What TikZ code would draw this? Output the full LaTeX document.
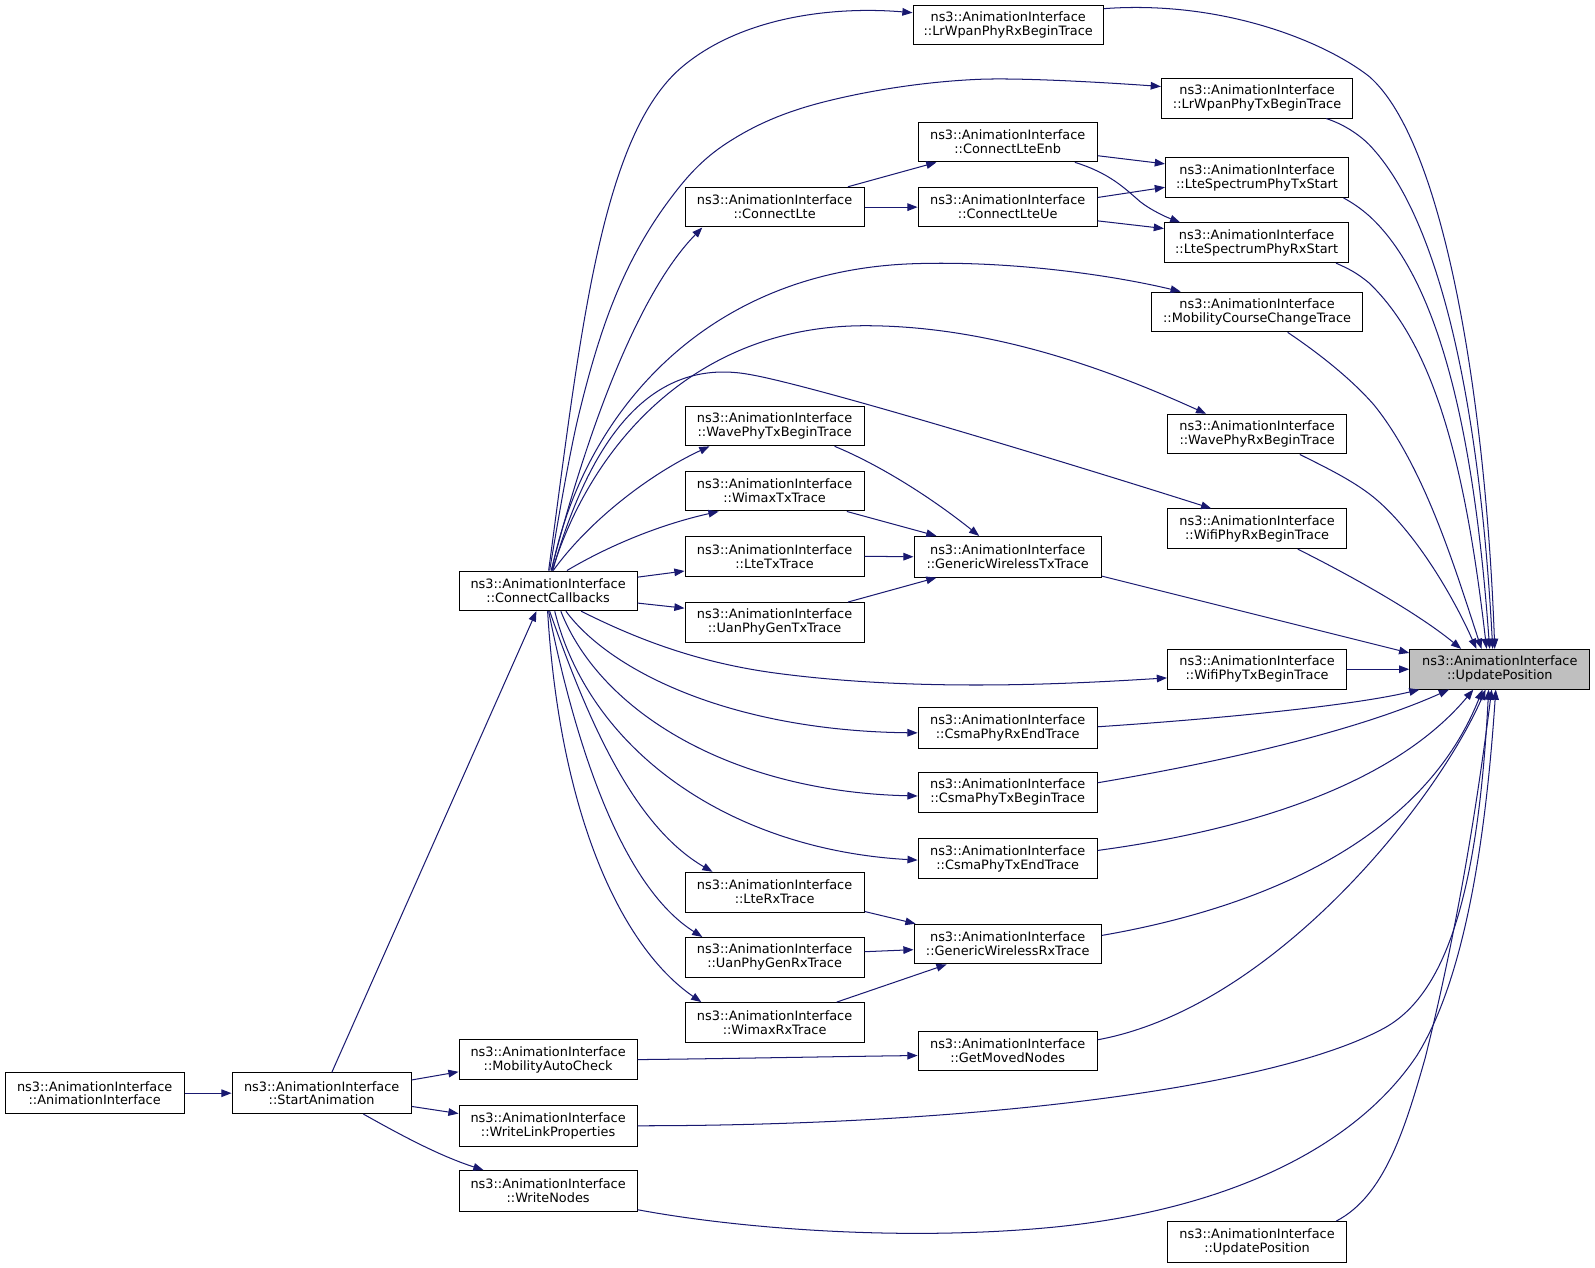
\documentclass[tikz,border=0pt]{standalone}
\usepackage{fontspec}
\setmainfont{DejaVu Sans}
\usetikzlibrary{arrows.meta,calc}
\definecolor{edgec}{HTML}{191970}
\newcommand\dnode[7][]{\node[fbox,#1, minimum width={(#5-#3)*0.75pt}, minimum height={(#6-#4)*0.75pt}] (#2) at ({(#3+#5)/2},{(#4+#6)/2}) {ns3::AnimationInterface\\::#7};}
\begin{document}
\begin{tikzpicture}[x=0.75pt,y=-0.75pt,
  fbox/.style={draw=black, line width=0.75pt, rectangle, align=center, inner sep=0pt, font=\fontsize{9.5}{10.3}\selectfont},
  e/.style={draw=edgec, line width=0.75pt, -{Triangle[length=7.5pt,width=5.6pt]}}]
\useasboundingbox (0,0) rectangle (1567,1245);
% nodes
\dnode[fill=black!25]{up}{1385}{638}{1562}{677}{UpdatePosition}
\dnode{lrrx}{897}{5}{1084}{44}{LrWpanPhyRxBeginTrace}
\dnode{lrtx}{1141}{77}{1329}{116}{LrWpanPhyTxBeginTrace}
\dnode{enb}{902}{120}{1078}{159}{ConnectLteEnb}
\dnode{lstx}{1145}{155}{1325}{194}{LteSpectrumPhyTxStart}
\dnode{cl}{673}{184}{849}{223}{ConnectLte}
\dnode{ue}{902}{184}{1078}{223}{ConnectLteUe}
\dnode{lsrx}{1144}{219}{1325}{258}{LteSpectrumPhyRxStart}
\dnode{mcc}{1131}{287}{1339}{326}{MobilityCourseChangeTrace}
\dnode{wprx}{1147}{407}{1323}{446}{WavePhyRxBeginTrace}
\dnode{wptx}{673}{399}{849}{438}{WavePhyTxBeginTrace}
\dnode{wmtx}{673}{463}{849}{502}{WimaxTxTrace}
\dnode{wfrx}{1147}{500}{1323}{539}{WifiPhyRxBeginTrace}
\dnode{gtx}{898}{527}{1082}{567}{GenericWirelessTxTrace}
\dnode{ltx}{673}{527}{849}{566}{LteTxTrace}
\dnode{cc}{451}{561}{626}{600}{ConnectCallbacks}
\dnode{utx}{673}{592}{849}{631}{UanPhyGenTxTrace}
\dnode{wftx}{1147}{638}{1323}{677}{WifiPhyTxBeginTrace}
\dnode{crx}{902}{695}{1078}{735}{CsmaPhyRxEndTrace}
\dnode{ctb}{902}{759}{1078}{798}{CsmaPhyTxBeginTrace}
\dnode{cte}{902}{824}{1078}{863}{CsmaPhyTxEndTrace}
\dnode{lrx}{673}{857}{849}{896}{LteRxTrace}
\dnode{grx}{898}{908}{1082}{947}{GenericWirelessRxTrace}
\dnode{urx}{673}{921}{849}{960}{UanPhyGenRxTrace}
\dnode{wmrx}{673}{985}{849}{1024}{WimaxRxTrace}
\dnode{gmn}{902}{1013}{1078}{1052}{GetMovedNodes}
\dnode{mac}{451}{1021}{626}{1061}{MobilityAutoCheck}
\dnode{ai}{5}{1054}{181}{1094}{AnimationInterface}
\dnode{sa}{228}{1054}{404}{1094}{StartAnimation}
\dnode{wlp}{451}{1086}{626}{1126}{WriteLinkProperties}
\dnode{wn}{451}{1150}{626}{1190}{WriteNodes}
\dnode{up2}{1147}{1200}{1323}{1240}{UpdatePosition}
% left part
\draw[e] (ai.east) -- (sa.west);
\draw[e] ($(sa.north)+(10,0)$) -- ($(cc.south)+(-11.5,0)$);
\draw[e] ($(sa.east)+(0,-13)$) -- ($(mac.west)+(0,12)$);
\draw[e] ($(sa.east)+(0,13)$) -- ($(wlp.west)+(0,-12)$);
\draw[e] ($(sa.south)+(41,0)$) .. controls (390,1113) and (430,1135) .. ($(wn.north)+(-63.5,0)$);
% ConnectCallbacks upward
\draw[e] ($(cc.north)+(0.5,0)$) .. controls (570,330) and (590,132) .. (671,65) .. controls (730,16) and (820,6) .. ($(lrrx.west)+(0,-12)$);
\draw[e] plot[smooth, tension=0.6] coordinates {($(cc.north)+(1.5,0)$) (568,410) (605,290) (655,200) (715,140) (810,100) (960,78) ($(lrtx.west)+(0,-11.5)$)};
\draw[e] ($(cc.north)+(3,0)$) .. controls (575,430) and (625,290) .. ($(cl.south)+(-71,0)$);
\draw[e] ($(cc.north)+(3.5,0)$) .. controls (572,410) and (690,265) .. (900,259) .. controls (1000,256) and (1100,272) .. ($(mcc.north)+(-75,0)$);
\draw[e] ($(cc.north)+(4,0)$) .. controls (580,440) and (680,320) .. (850,320) .. controls (980,320) and (1100,368) .. ($(wprx.north)+(-50,0)$);
\draw[e] ($(cc.north)+(4.5,0)$) .. controls (580,430) and (640,350) .. (737,368) .. controls (800,379) and (1050,455) .. ($(wfrx.north)+(-45,0)$);
\draw[e] ($(cc.north)+(5,0)$) .. controls (580,510) and (640,465) .. ($(wptx.south)+(-64,0)$);
\draw[e] ($(cc.north)+(18.5,0)$) .. controls (600,535) and (650,515) .. ($(wmtx.south)+(-55,0)$);
\draw[e] ($(cc.east)+(0,-13.5)$) -- ($(ltx.west)+(0,14.5)$);
\draw[e] ($(cc.east)+(0,12)$) -- ($(utx.west)+(0,-14)$);
% ConnectCallbacks downward
\draw[e] ($(cc.south)+(32.5,0)$) .. controls (620,625) and (680,650) .. (760,661) .. controls (900,680) and (1050,672) .. ($(wftx.west)+(0,8.5)$);
\draw[e] ($(cc.south)+(17.5,0)$) .. controls (600,660) and (720,718) .. ($(crx.west)+(0,5)$);
\draw[e] ($(cc.south)+(12.5,0)$) .. controls (590,700) and (720,778) .. ($(ctb.west)+(0,3.5)$);
\draw[e] ($(cc.south)+(6.5,0)$) .. controls (580,740) and (720,835) .. ($(cte.west)+(0,1.5)$);
\draw[e] ($(cc.south)+(1.5,0)$) .. controls (575,700) and (620,810) .. ($(lrx.north)+(-61,0)$);
\draw[e] ($(cc.south)+(0.5,0)$) .. controls (565,730) and (610,870) .. ($(urx.north)+(-71,0)$);
\draw[e] ($(cc.south)+(-0.5,0)$) .. controls (550,800) and (610,930) .. ($(wmrx.north)+(-72,0)$);
% ConnectLte group
\draw[e] ($(cl.north)+(72,0)$) -- ($(enb.south)+(-70,0)$);
\draw[e] (cl.east) -- (ue.west);
\draw[e] ($(enb.east)+(0,13.5)$) -- ($(lstx.west)+(0,-13.5)$);
\draw[e] ($(enb.south)+(66,0)$) .. controls (1090,170) and (1105,185) .. (1120,198) .. controls (1130,206) and (1145,213) .. ($(lsrx.north)+(-75,0)$);
\draw[e] ($(ue.east)+(0,-9.5)$) -- ($(lstx.west)+(0,9.5)$);
\draw[e] ($(ue.east)+(0,13.5)$) -- ($(lsrx.west)+(0,-14)$);
% generic wireless tx / rx
\draw[e] ($(wptx.south)+(59,0)$) .. controls (860,455) and (910,485) .. ($(gtx.north)+(-28,0)$);
\draw[e] ($(wmtx.south)+(71,0)$) -- ($(gtx.north)+(-70,0)$);
\draw[e] (ltx.east) -- (gtx.west);
\draw[e] ($(utx.north)+(72,0)$) -- ($(gtx.south)+(-70,0)$);
\draw[e] ($(lrx.south east)+(0,-1)$) -- ($(grx.north west)+(2,0)$);
\draw[e] ($(urx.east)+(0,-5.5)$) -- ($(grx.west)+(0,5.5)$);
\draw[e] ($(wmrx.north)+(61,0)$) -- ($(grx.south)+(-60,0)$);
\draw[e] (mac.east) .. controls (720,1040) and (820,1038) .. ($(gmn.west)+(0,4.5)$);
% into UpdatePosition (top)
\draw[e] ($(lrrx.east)+(0,-16)$) .. controls (1200,0) and (1300,40) .. (1345,75) .. controls (1420,140) and (1460,400) .. ($(up.north)+(-5,0)$);
\draw[e] ($(lrtx.south)+(68,0)$) .. controls (1320,122) and (1335,132) .. (1345,142) .. controls (1420,220) and (1455,420) .. ($(up.north)+(-7,0)$);
\draw[e] ($(lstx.south)+(85,0)$) .. controls (1330,200) and (1337,205) .. (1345,212) .. controls (1420,280) and (1450,450) .. ($(up.north)+(-10,0)$);
\draw[e] ($(lsrx.south)+(78,0)$) .. controls (1325,264) and (1333,268) .. (1345,278) .. controls (1410,340) and (1440,460) .. ($(up.north)+(-13,0)$);
\draw[e] ($(mcc.south)+(30,0)$) .. controls (1300,350) and (1330,375) .. (1350,398) .. controls (1400,460) and (1430,560) .. ($(up.north)+(-18,0)$);
\draw[e] ($(wprx.south)+(42,0)$) .. controls (1300,458) and (1325,470) .. (1345,485) .. controls (1385,515) and (1425,580) .. ($(up.north)+(-23,0)$);
\draw[e] ($(wfrx.south)+(40,0)$) .. controls (1320,562) and (1390,600) .. ($(up.north)+(-38,0)$);
\draw[e] ($(gtx.east)+(0,19)$) -- ($(up.west)+(0,-16)$);
\draw[e] (wftx.east) -- (up.west);
% into UpdatePosition (bottom)
\draw[e] ($(crx.east)+(0,-1)$) .. controls (1200,706) and (1330,693) .. ($(up.south west)+(10,0)$);
\draw[e] ($(ctb.east)+(0,-9.5)$) .. controls (1220,745) and (1340,715) .. ($(up.south)+(-50,0)$);
\draw[e] ($(cte.east)+(0,-8)$) .. controls (1230,815) and (1370,770) .. ($(up.south)+(-26,0)$);
\draw[e] ($(grx.east)+(0,-8.5)$) .. controls (1250,890) and (1400,820) .. ($(up.south)+(-17,0)$);
\draw[e] ($(gmn.east)+(0,-11)$) .. controls (1250,990) and (1410,790) .. ($(up.south)+(-14,0)$);
\draw[e] (wlp.east) .. controls (950,1106) and (1250,1070) .. (1360,1010) .. controls (1420,977) and (1452,880) .. ($(up.south)+(-11,0)$);
\draw[e] ($(wn.south east)+(0,-2)$) .. controls (720,1206) and (880,1220) .. (1031,1206) .. controls (1200,1190) and (1330,1130) .. (1392,1037) .. controls (1440,960) and (1460,820) .. ($(up.south)+(-4,0)$);
\draw[e] ($(up2.north)+(78,0)$) .. controls (1360,1175) and (1380,1110) .. (1400,1040) .. controls (1430,920) and (1450,800) .. ($(up.south)+(-8,0)$);
\end{tikzpicture}
\end{document}
